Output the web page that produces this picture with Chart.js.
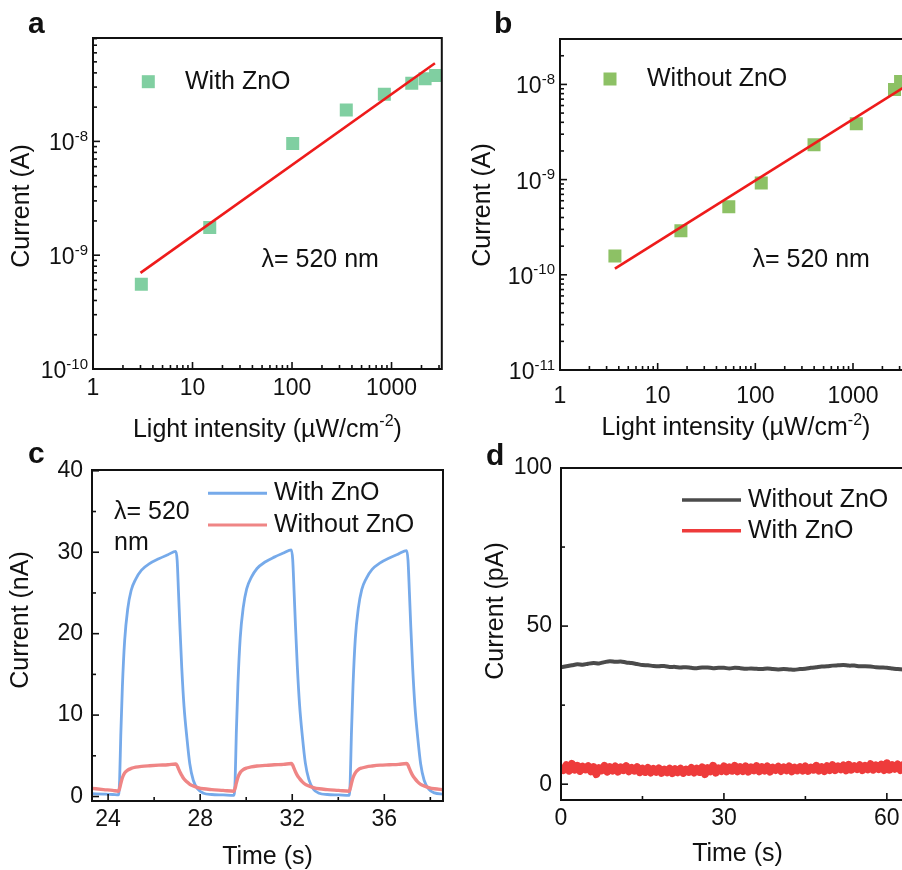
<!DOCTYPE html>
<html>
<head>
<meta charset="utf-8">
<title>Photoresponse with / without ZnO</title>
<script src="https://cdn.jsdelivr.net/npm/chart.js@4.4.1/dist/chart.umd.min.js"></script>
<style>
  html, body { margin: 0; padding: 0; background: #fff; }
  #fig { position: relative; width: 902px; height: 870px; overflow: hidden; background: #fff; }
  #fig canvas { position: absolute; }
</style>
</head>
<body>
<div id="fig">
  <canvas id="chartA" width="451" height="452" style="left:0;top:0"></canvas>
  <canvas id="chartB" width="470" height="452" style="left:451px;top:0"></canvas>
  <canvas id="chartC" width="451" height="430" style="left:0;top:440px"></canvas>
  <canvas id="chartD" width="470" height="430" style="left:451px;top:440px"></canvas>
</div>
<script>
// ─── Data: panel a — photocurrent vs light intensity, with ZnO ───────────────

const intensityA = [3.06, 14.9, 101.6, 351, 847, 1597, 2173, 2773];
const currentA   = [5.55e-10, 1.75e-9, 9.6e-9, 1.89e-8, 2.6e-8, 3.25e-8, 3.56e-8, 3.8e-8];
const fitIntensityA = [3.0, 2730];
const fitCurrentA   = [6.99e-10, 4.86e-8];

// ─── Data: panel b — without ZnO ──────────────────────────────────────────────

const intensityB = [3.65, 17.3, 53.5, 115, 399, 1081, 2661, 3070];
const currentB   = [1.58e-10, 2.9e-10, 5.2e-10, 9.2e-10, 2.33e-9, 3.87e-9, 8.86e-9, 1.07e-8];
const fitIntensityB = [3.65, 4000];
const fitCurrentB   = [1.16e-10, 1.05e-8];

const decadesX  = [1, 10, 100, 1000];
const decadesYA = [1e-10, 1e-9, 1e-8];
const decadesYB = [1e-11, 1e-10, 1e-9, 1e-8];

// ─── Data: panel c — on/off switching at 520 nm (nA) ─────────────────────────

const timeC = [
  23.30, 23.80, 24.20, 24.45, 24.50, 24.55, 24.62, 24.72, 24.85, 25.00, 25.20, 25.45, 25.80, 26.20, 26.60,
  26.94, 27.00, 27.06, 27.12, 27.20, 27.30, 27.42, 27.55, 27.70, 27.90, 28.15, 28.50, 29.00, 29.47,
  29.52, 29.57, 29.64, 29.74, 29.87, 30.02, 30.22, 30.47, 30.82, 31.22, 31.62,
  31.96, 32.02, 32.08, 32.14, 32.22, 32.32, 32.44, 32.57, 32.72, 32.92, 33.17, 33.52, 34.02, 34.48,
  34.52, 34.57, 34.64, 34.74, 34.87, 35.02, 35.22, 35.47, 35.82, 36.22, 36.62,
  36.97, 37.03, 37.09, 37.15, 37.23, 37.33, 37.45, 37.58, 37.73, 37.93, 38.18, 38.55,
];
const withZnOC = [
  0.35, 0.3, 0.25, 0.2, 2.0, 7.5, 13.5, 19.2, 23.0, 25.3, 26.7, 27.8, 28.6, 29.2, 29.7,
  30.1, 29.0, 25.0, 20.8, 15.8, 11.0, 7.3, 4.0, 2.0, 0.9, 0.4, 0.25, 0.2, 0.15,
  2.1, 7.8, 13.8, 19.5, 23.2, 25.5, 26.9, 28.0, 28.8, 29.4, 29.9,
  30.3, 29.1, 25.2, 21.0, 16.0, 11.2, 7.4, 4.1, 2.1, 0.9, 0.4, 0.25, 0.2, 0.15,
  2.0, 7.6, 13.6, 19.4, 23.1, 25.4, 26.8, 27.9, 28.7, 29.3, 29.8,
  30.2, 29.0, 25.1, 20.9, 15.9, 11.1, 7.3, 4.0, 2.0, 0.9, 0.45, 0.3,
];
const withoutZnOC = [
  1.0, 0.85, 0.75, 0.65, 1.0, 1.6, 2.3, 2.9, 3.25, 3.45, 3.6, 3.7, 3.78, 3.85, 3.9,
  4.0, 3.8, 3.4, 3.0, 2.6, 2.15, 1.8, 1.5, 1.3, 1.1, 0.95, 0.85, 0.75, 0.65,
  1.05, 1.65, 2.35, 2.95, 3.3, 3.5, 3.65, 3.75, 3.82, 3.9, 3.95,
  4.05, 3.85, 3.45, 3.05, 2.6, 2.2, 1.8, 1.5, 1.3, 1.1, 0.95, 0.85, 0.75, 0.65,
  1.0, 1.6, 2.3, 2.9, 3.3, 3.5, 3.65, 3.75, 3.85, 3.9, 3.95,
  4.05, 3.85, 3.45, 3.05, 2.6, 2.2, 1.8, 1.5, 1.3, 1.1, 0.95, 0.85,
];

// ─── Data: panel d — dark current (pA), uniformly sampled ─────────────────────

const STEP_DARK_WITHOUT = 1;   // s
const darkWithoutZnO = [
  37.0, 37.3, 37.6, 37.9, 37.8, 38.1, 38.3, 38.2, 38.6, 38.9, 38.7, 38.8, 38.5, 38.3, 38.0, 37.7,
  37.6, 37.4, 37.3, 37.4, 37.1, 37.1, 36.9, 37.0, 36.8, 36.7, 36.9, 36.9, 36.7, 36.8, 36.8, 36.6,
  36.8, 36.7, 36.5, 36.6, 36.5, 36.4, 36.6, 36.4, 36.3, 36.4, 36.3, 36.2, 36.4, 36.5, 36.8, 37.0,
  37.2, 37.3, 37.5, 37.6, 37.7, 37.5, 37.5, 37.3, 37.3, 37.2, 37.0, 36.9, 36.8, 36.6, 36.4, 36.3,
  36.3, 36.2,
];
const STEP_DARK_WITH = 0.5;    // s
const darkWithZnO = [
  5.6, 4.5, 6.0, 4.3, 6.4, 4.6, 5.8, 4.2, 5.5, 4.7,
  5.7, 4.1, 5.4, 3.2, 5.1, 4.4, 5.8, 4.0, 5.4, 4.3,
  5.6, 4.0, 5.3, 4.5, 5.7, 4.1, 5.1, 4.3, 5.4, 3.8,
  4.9, 3.9, 5.1, 3.7, 4.8, 3.9, 5.0, 3.6, 4.6, 3.8,
  4.9, 3.5, 4.7, 3.8, 4.9, 3.6, 4.6, 3.9, 5.1, 3.7,
  4.9, 3.9, 5.3, 3.2, 5.1, 4.1, 5.8, 3.7, 5.0, 4.2,
  5.6, 4.1, 5.3, 4.3, 5.8, 4.1, 5.4, 4.2, 5.6, 4.0,
  5.3, 4.4, 5.7, 4.1, 5.4, 4.3, 5.6, 4.0, 5.2, 4.5,
  5.5, 4.2, 5.3, 4.4, 5.6, 4.1, 5.2, 4.4, 5.4, 4.3,
  5.6, 4.2, 5.2, 4.6, 5.8, 4.3, 5.4, 4.2, 5.7, 4.5,
  6.0, 4.5, 5.6, 4.7, 5.9, 4.4, 6.1, 4.6, 5.7, 4.8,
  6.0, 4.5, 5.8, 4.7, 6.3, 4.6, 5.9, 4.8, 6.2, 4.5,
  6.6, 4.6, 6.0, 4.9, 6.2, 4.5, 6.0, 4.7, 6.3, 4.8,
  5.8,
];

// ─── Style ────────────────────────────────────────────────────────────────────

const FONT = '"Liberation Sans", Arial, Helvetica, sans-serif';
const INK = '#111111';
const TICK_SIZE = 23;
const TEXT_SIZE = 25;
const TITLE_SIZE = 25;

Chart.defaults.font.family = FONT;
Chart.defaults.color = INK;

const zip = (xs, ys) => xs.map((x, i) => ({ x, y: ys[i] }));
const sampled = (ys, step) => ys.map((y, i) => ({ x: i * step, y }));
const logMinor = decades => decades.flatMap(d => [2, 3, 4, 5, 6, 7, 8, 9].map(k => k * d));

// draws text made of [text, isSuperscript] parts; y is the baseline
function drawParts(ctx, parts, x, y, align, size) {
  const supSize = Math.round(size * 0.64);
  const widths = parts.map(([t, s]) => {
    ctx.font = `${s ? supSize : size}px ${FONT}`;
    return ctx.measureText(t).width;
  });
  const total = widths.reduce((a, b) => a + b, 0);
  let cx = align === 'right' ? x - total : align === 'center' ? x - total / 2 : x;
  ctx.textAlign = 'left';
  ctx.textBaseline = 'alphabetic';
  parts.forEach(([t, s], i) => {
    ctx.font = `${s ? supSize : size}px ${FONT}`;
    ctx.fillText(t, cx, s ? y - size * 0.41 : y);
    cx += widths[i];
  });
}

// ─── Figure decoration plugin: frame, inward ticks, texts, legend ─────────────

const figureDeco = {
  id: 'figureDeco',
  afterDatasetsDraw(chart, args, o) {
    const { ctx, chartArea: a, scales } = chart;
    ctx.save();
    ctx.strokeStyle = INK;
    ctx.fillStyle = INK;

    // inward tick marks on bottom and left axes
    ctx.lineWidth = 1.6;
    const mark = (scale, v, len) => {
      if (v < scale.min || v > scale.max) return;
      const p = scale.getPixelForValue(v);
      ctx.beginPath();
      if (scale.isHorizontal()) { ctx.moveTo(p, a.bottom); ctx.lineTo(p, a.bottom - len); }
      else { ctx.moveTo(a.left, p); ctx.lineTo(a.left + len, p); }
      ctx.stroke();
    };
    ['x', 'y'].forEach(id => {
      o.ticks[id].major.forEach(v => mark(scales[id], v, 7));
      o.ticks[id].minor.forEach(v => mark(scales[id], v, 4));
    });

    ctx.lineWidth = 2;
    ctx.strokeRect(a.left, a.top, a.width, a.height);

    // 10^n labels for log y axes
    if (o.powerLabels) {
      o.powerLabels.forEach(v => {
        const p = scales.y.getPixelForValue(v);
        const exp = Math.round(Math.log10(v));
        drawParts(ctx, [['10', false], [String(exp), true]], a.left - 5, p + 9, 'right', TICK_SIZE);
      });
    }

    // axis titles
    drawParts(ctx, o.xTitle.parts, (a.left + a.right) / 2, o.xTitle.y, 'center', TITLE_SIZE);
    ctx.save();
    ctx.translate(o.yTitle.x, o.yTitle.y);
    ctx.rotate(-Math.PI / 2);
    ctx.font = `${TITLE_SIZE}px ${FONT}`;
    ctx.textAlign = 'center';
    ctx.textBaseline = 'middle';
    ctx.fillText(o.yTitle.text, 0, 0);
    ctx.restore();

    // legend
    const lg = o.legend;
    lg.datasets.forEach((di, k) => {
      const ds = chart.data.datasets[di];
      const y = lg.ys[k];
      if (lg.kind === 'marker') {
        ctx.fillStyle = ds.backgroundColor;
        ctx.fillRect(lg.x0 - 6.5, y - 6.5, 13, 13);
      } else {
        ctx.strokeStyle = ds.borderColor;
        ctx.lineWidth = lg.lineWidth;
        ctx.beginPath();
        ctx.moveTo(lg.x0, y);
        ctx.lineTo(lg.x1, y);
        ctx.stroke();
      }
      ctx.fillStyle = INK;
      ctx.font = `${TEXT_SIZE}px ${FONT}`;
      ctx.textAlign = 'left';
      ctx.textBaseline = 'middle';
      ctx.fillText(ds.label, lg.textX, y);
    });

    // free notes
    ctx.font = `${TEXT_SIZE}px ${FONT}`;
    ctx.textAlign = 'left';
    ctx.textBaseline = 'alphabetic';
    (o.notes || []).forEach(n => ctx.fillText(n.text, n.x, n.y));

    // panel letter
    ctx.font = `bold 30px ${FONT}`;
    ctx.fillText(o.tag.text, o.tag.x, o.tag.y);
    ctx.restore();
  },
};
Chart.register(figureDeco);

function panelOptions({ top, right, yWidth, xHeight, x, y, deco }) {
  return {
    responsive: false,
    animation: false,
    layout: { padding: { left: 0, top, right, bottom: 0 } },
    plugins: { legend: { display: false }, tooltip: { enabled: false }, figureDeco: deco },
    scales: {
      x: { ...x, grid: { display: false }, border: { display: false }, afterFit: s => { s.height = xHeight; } },
      y: { ...y, grid: { display: false }, border: { display: false }, afterFit: s => { s.width = yWidth; } },
    },
  };
}

const logX = (max, pad) => ({
  type: 'logarithmic', min: 1, max,
  afterBuildTicks: s => { s.ticks = decadesX.map(v => ({ value: v })); },
  ticks: { font: { size: TICK_SIZE }, color: INK, padding: pad, autoSkip: false, maxRotation: 0, callback: v => String(v) },
});
const lightTitle = [['Light intensity (\u00b5W/cm', false], ['-2', true], [')', false]];

// ─── Panel a ──────────────────────────────────────────────────────────────────

new Chart(document.getElementById('chartA'), {
  type: 'scatter',
  data: {
    datasets: [
      { label: 'With ZnO', data: zip(intensityA, currentA), backgroundColor: '#80cfa1',
        pointStyle: 'rect', pointRadius: 9.2, pointBorderWidth: 0, clip: 0, order: 1 },
      { label: 'fit', data: zip(fitIntensityA, fitCurrentA), showLine: true, borderColor: '#ee1b1b',
        borderWidth: 2.6, pointRadius: 0, clip: 0, order: 0 },
    ],
  },
  options: panelOptions({
    top: 38, right: 7, yWidth: 93, xHeight: 83,
    x: logX(3200, -2),
    y: { type: 'logarithmic', min: 1e-10, max: 8.1e-8, ticks: { display: false } },
    deco: {
      ticks: { x: { major: decadesX, minor: logMinor(decadesX) }, y: { major: decadesYA, minor: logMinor(decadesYA) } },
      powerLabels: decadesYA,
      xTitle: { parts: lightTitle, y: 436.5 },
      yTitle: { text: 'Current (A)', x: 22.5, y: 206 },
      legend: { kind: 'marker', datasets: [0], x0: 148.3, textX: 185, ys: [81.7] },
      notes: [{ text: '\u03bb= 520 nm', x: 261.5, y: 266.5 }],
      tag: { text: 'a', x: 28, y: 33 },
    },
  }),
});

// ─── Panel b ──────────────────────────────────────────────────────────────────

new Chart(document.getElementById('chartB'), {
  type: 'scatter',
  data: {
    datasets: [
      { label: 'Without ZnO', data: zip(intensityB, currentB), backgroundColor: '#8dc165',
        pointStyle: 'rect', pointRadius: 9.2, pointBorderWidth: 0, clip: 0, order: 1 },
      { label: 'fit', data: zip(fitIntensityB, fitCurrentB), showLine: true, borderColor: '#ee1b1b',
        borderWidth: 2.6, pointRadius: 0, clip: 0, order: 0 },
    ],
  },
  options: panelOptions({
    top: 39, right: 9, yWidth: 109, xHeight: 82,
    x: logX(4000, 5),
    y: { type: 'logarithmic', min: 1e-11, max: 3e-8, ticks: { display: false } },
    deco: {
      ticks: { x: { major: decadesX, minor: logMinor(decadesX) }, y: { major: decadesYB, minor: logMinor(decadesYB) } },
      powerLabels: decadesYB,
      xTitle: { parts: lightTitle, y: 435 },
      yTitle: { text: 'Current (A)', x: 32, y: 205 },
      legend: { kind: 'marker', datasets: [0], x0: 159, textX: 196, ys: [79] },
      notes: [{ text: '\u03bb= 520 nm', x: 301.5, y: 266.5 }],
      tag: { text: 'b', x: 43, y: 33 },
    },
  }),
});

// ─── Panel c ──────────────────────────────────────────────────────────────────

const ticksC = { x: [24, 28, 32, 36], y: [0, 10, 20, 30, 40] };

new Chart(document.getElementById('chartC'), {
  type: 'line',
  data: {
    datasets: [
      { label: 'With ZnO', data: zip(timeC, withZnOC), borderColor: '#76aaea', borderWidth: 2.8,
        pointRadius: 0, cubicInterpolationMode: 'monotone', clip: 0, order: 1 },
      { label: 'Without ZnO', data: zip(timeC, withoutZnOC), borderColor: '#ef8585', borderWidth: 3.4,
        pointRadius: 0, cubicInterpolationMode: 'monotone', clip: 0, order: 0 },
    ],
  },
  options: panelOptions({
    top: 30, right: 8, yWidth: 92, xHeight: 69,
    x: { type: 'linear', min: 23.3, max: 38.55,
      afterBuildTicks: s => { s.ticks = ticksC.x.map(v => ({ value: v })); },
      ticks: { font: { size: TICK_SIZE }, color: INK, padding: -3, maxRotation: 0 } },
    y: { type: 'linear', min: -0.55, max: 40.1,
      afterBuildTicks: s => { s.ticks = ticksC.y.map(v => ({ value: v })); },
      ticks: { font: { size: TICK_SIZE }, color: INK, padding: 1 } },
    deco: {
      ticks: { x: { major: ticksC.x, minor: [26, 30, 34, 38] }, y: { major: ticksC.y, minor: [5, 15, 25, 35] } },
      xTitle: { parts: [['Time (s)', false]], y: 424 },
      yTitle: { text: 'Current (nA)', x: 21.5, y: 180 },
      legend: { kind: 'line', datasets: [0, 1], x0: 208, x1: 267, textX: 274, ys: [53.3, 85], lineWidth: 3 },
      notes: [{ text: '\u03bb= 520', x: 114, y: 78.5 }, { text: 'nm', x: 114, y: 110 }],
      tag: { text: 'c', x: 28, y: 463 - 440 },
    },
  }),
});

// ─── Panel d ──────────────────────────────────────────────────────────────────

const ticksD = { x: [0, 30, 60], y: [0, 50, 100] };

new Chart(document.getElementById('chartD'), {
  type: 'line',
  data: {
    datasets: [
      { label: 'Without ZnO', data: sampled(darkWithoutZnO, STEP_DARK_WITHOUT), borderColor: '#4b4b4b',
        borderWidth: 4, pointRadius: 0, tension: 0.3, clip: 0 },
      { label: 'With ZnO', data: sampled(darkWithZnO, STEP_DARK_WITH), borderColor: '#ee3b3b',
        borderWidth: 8, borderJoinStyle: 'round', pointRadius: 0, tension: 0, clip: 0 },
    ],
  },
  options: panelOptions({
    top: 28, right: 7, yWidth: 110, xHeight: 70,
    x: { type: 'linear', min: 0, max: 65,
      afterBuildTicks: s => { s.ticks = ticksD.x.map(v => ({ value: v })); },
      ticks: { font: { size: TICK_SIZE }, color: INK, padding: -3.5, maxRotation: 0 } },
    y: { type: 'linear', min: -5, max: 100,
      afterBuildTicks: s => { s.ticks = ticksD.y.map(v => ({ value: v })); },
      ticks: { font: { size: TICK_SIZE }, color: INK, padding: 1 } },
    deco: {
      ticks: { x: { major: ticksD.x, minor: [15, 45] }, y: { major: ticksD.y, minor: [25, 75] } },
      xTitle: { parts: [['Time (s)', false]], y: 420.5 },
      yTitle: { text: 'Current (pA)', x: 45, y: 171 },
      legend: { kind: 'line', datasets: [0, 1], x0: 231, x1: 290, textX: 297, ys: [60, 90.7], lineWidth: 3.4 },
      tag: { text: 'd', x: 35, y: 25 },
    },
  }),
});
</script>
</body>
</html>
